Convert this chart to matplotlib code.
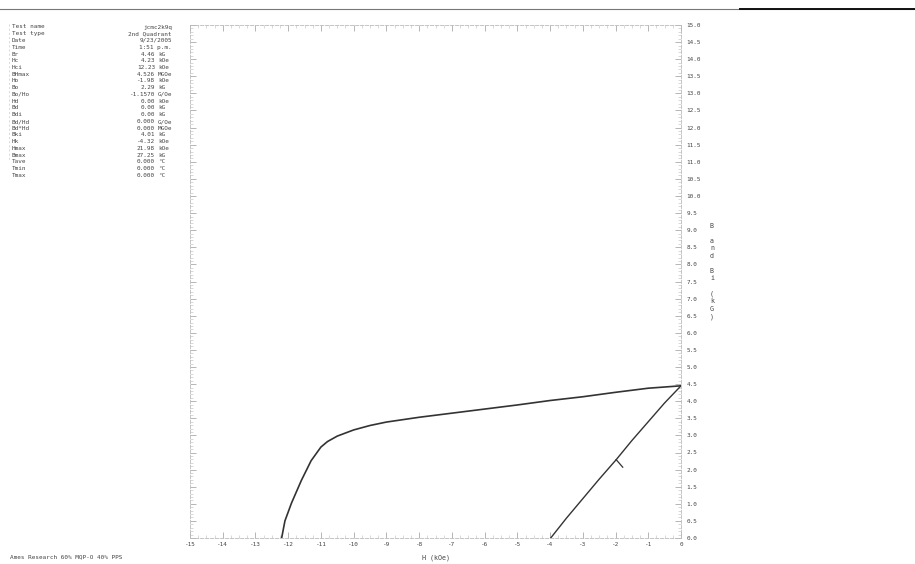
import numpy as np
import matplotlib.pyplot as plt
from matplotlib.lines import Line2D

# intrinsic curve Bi(H), kOe / kG
H_int = [0, -1, -2, -3, -4, -5, -6, -7, -8, -9, -9.5, -10, -10.5, -10.8, -11,
         -11.3, -11.6, -11.9, -12.1, -12.2]
B_int = [4.45, 4.38, 4.26, 4.13, 4.02, 3.89, 3.77, 3.65, 3.53, 3.39, 3.29,
         3.16, 2.98, 2.82, 2.66, 2.26, 1.68, 1.02, 0.50, 0.0]

# normal curve B(H)
H_norm = [0, -0.5, -1, -1.5, -1.98, -2.5, -3, -3.5, -3.98]
B_norm = [4.45, 3.95, 3.40, 2.85, 2.29, 1.72, 1.15, 0.58, 0.0]

Ho, Bo = -1.98, 2.29

labels = ['Test name', 'Test type', 'Date', 'Time', 'Br', 'Hc', 'Hci', 'BHmax',
          'Ho', 'Bo', 'Bo/Ho', 'Hd', 'Bd', 'Bdi', 'Bd/Hd', 'Bd*Hd', 'Bki', 'Hk',
          'Hmax', 'Bmax', 'Tave', 'Tmin', 'Tmax']
values = ['jcmc2k9q', '2nd Quadrant', '9/23/2005', '1:51 p.m.', '4.46 kG',
          '4.23 kOe', '12.23 kOe', '4.526 MGOe', '-1.98 kOe', '2.29 kG',
          '-1.1570 G/Oe', '0.00 kOe', '0.00 kG', '0.00 kG', '0.000 G/Oe',
          '0.000 MGOe', '4.01 kG', '-4.32 kOe', '21.98 kOe', '27.25 kG',
          '0.000 \u00b0C', '0.000 \u00b0C', '0.000 \u00b0C']

x_ticks = np.arange(-15, 1, 1)
y_ticks = np.arange(0, 15.01, 0.5)

mono = 'DejaVu Sans Mono'
fs = 4.3

fig = plt.figure(figsize=(9.15, 5.64), dpi=100)
ax = fig.add_axes([190/915, 26/564, 491/915, 513/564])

ax.plot(H_int, B_int, color='#333333', lw=1.2)
ax.plot(H_norm, B_norm, color='#333333', lw=1.0)
ax.plot([Ho, Ho + 0.2], [Bo, Bo - 0.22], color='#333333', lw=0.9)

ax.set_xlim(-15, 0)
ax.set_ylim(0, 15)
for s in ax.spines.values():
    s.set_color('#bbbbbb')
    s.set_linewidth(0.6)
    s.set_linestyle((0, (4, 2)))

ax.set_xticks(x_ticks)
ax.set_xticklabels([str(v) for v in x_ticks], fontsize=fs, family=mono, color='#444444')
ax.set_xticks(np.arange(-15, 0.01, 0.25), minor=True)
ax.tick_params(axis='x', which='major', direction='in', length=4, width=0.5,
               color='#999999', pad=3, top=True)
ax.tick_params(axis='x', which='minor', direction='in', length=2, width=0.4,
               color='#bbbbbb', top=True)

ax.yaxis.tick_right()
ax.set_yticks(y_ticks)
ax.set_yticklabels(['%.1f' % v for v in y_ticks], fontsize=fs, family=mono, color='#444444')
ax.set_yticks(np.arange(0, 15.01, 0.1), minor=True)
ax.tick_params(axis='y', which='major', direction='in', length=4, width=0.5,
               color='#999999', pad=4, left=True, right=True)
ax.tick_params(axis='y', which='minor', direction='in', length=2, width=0.4,
               color='#bbbbbb', left=True, right=True)

ax.set_xlabel('H (kOe)', fontsize=4.8, family=mono, color='#444444')
ax.xaxis.set_label_coords(0.5, -0.032)
ax.yaxis.set_label_position('right')
ax.set_ylabel('B\n\na\nn\nd\n\nB\ni\n\n(\nk\nG\n)', rotation=0, fontsize=4.8,
              family=mono, color='#444444', va='center', linespacing=1.3)
ax.yaxis.set_label_coords(1.063, 0.52)

# results table
top = 1 - 27/564
step = 6.75/564
for i, (lab, val) in enumerate(zip(labels, values)):
    y = top - i*step
    fig.text(12/915, y, lab, fontsize=fs, family=mono, color='#444444', va='center')
    if ' ' in val and i >= 4:
        num, unit = val.split(' ', 1)
        fig.text(155/915, y, num, fontsize=fs, family=mono, color='#444444',
                 va='center', ha='right')
        fig.text(158/915, y, unit, fontsize=fs, family=mono, color='#444444', va='center')
    else:
        fig.text(172/915, y, val, fontsize=fs, family=mono, color='#444444',
                 va='center', ha='right')
fig.add_artist(Line2D([9/915, 9/915], [1 - 24/564, 1 - 160/564], color='#cccccc', lw=0.5,
                      ls=(0, (3, 3))))

fig.text(10/915, 1 - 557/564, 'Ames Research 60% MQP-O 40% PPS', fontsize=fs,
         family=mono, color='#444444', va='center')

# scan line across the top
fig.add_artist(Line2D([0, 1], [1 - 9/564, 1 - 9/564], color='#777777', lw=0.8))
fig.add_artist(Line2D([740/915, 1], [1 - 9/564, 1 - 9/564], color='#111111', lw=1.4))

fig.savefig('out.png', dpi=100)
